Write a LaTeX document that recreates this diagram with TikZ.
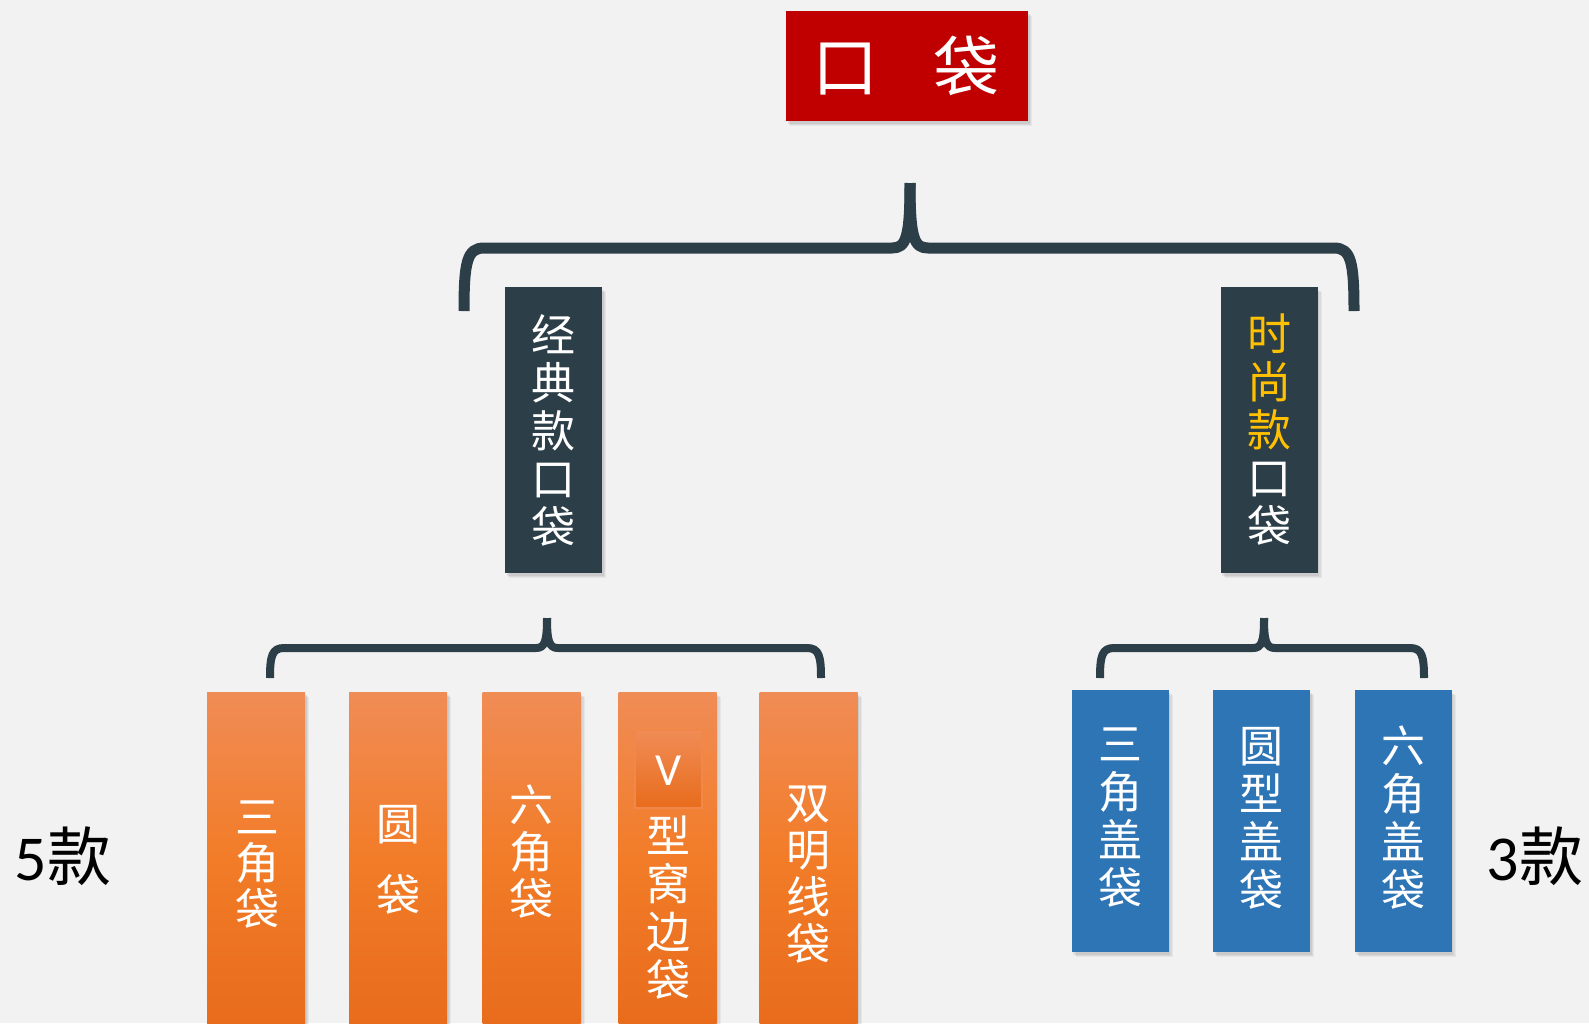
\documentclass[tikz,border=0pt]{standalone}
\usepackage{fontspec}
\setmainfont{Carlito}
\newfontfamily\cjk{Noto Sans CJK SC}
\usetikzlibrary{shadows}
\definecolor{bg}{HTML}{F2F2F2}
\definecolor{redbox}{HTML}{C00000}
\definecolor{slate}{HTML}{2C3E48}
\definecolor{gold}{HTML}{FFC000}
\definecolor{blueb}{HTML}{2E75B6}
\definecolor{orTop}{RGB}{240,140,86}
\definecolor{orMid}{RGB}{242,124,40}
\definecolor{orBot}{RGB}{232,108,28}
\begin{document}
\begin{tikzpicture}[x=1pt,y=-1pt,
  boxbase/.style={rectangle, inner sep=0pt, draw=none,
    drop shadow={shadow xshift=4pt, shadow yshift=-5pt, opacity=0.10},
    drop shadow={shadow xshift=3pt, shadow yshift=-4pt, opacity=0.12},
    drop shadow={shadow xshift=1.5pt, shadow yshift=-2.5pt, opacity=0.15}},
  orbox/.style={boxbase, top color=orTop, bottom color=orBot, middle color=orMid,
    minimum width=98pt, minimum height=331pt},
  bluebox/.style={boxbase, fill=blueb, minimum width=97pt, minimum height=262pt},
  darkbox/.style={boxbase, fill=slate, minimum width=97pt, minimum height=286pt},
  vtext/.style={text=white, align=center, inner sep=0pt,
    font=\cjk\fontsize{44}{#1}\selectfont},
  vtext/.default=47,
  bracketline/.style={draw=slate, line width=#1, line cap=butt, line join=round},
  cnt/.style={text=black, inner sep=0pt, font=\fontsize{64}{70}\selectfont}
]
\useasboundingbox (0,0) rectangle (1589,1023);
\fill[bg] (0,0) rectangle (1589,1023);

% title
\node[boxbase, fill=redbox, minimum width=242pt, minimum height=110pt] (top) at (907,66) {};
\node[text=white, inner sep=0pt, font=\cjk\fontsize{66}{70}\selectfont] (toptxt) at (906,66) {口\hspace{56pt}袋};

% second level
\node[darkbox] (classic) at (553.5,430) {};
\node[vtext=48] (classictxt) at (553,430) {经\\典\\款\\口\\袋};
\node[darkbox] (fashion) at (1269,430) {};
\node[vtext=48, text=gold] (fashiontxt) at (1269,430) {时\\尚\\款\\\textcolor{white}{口}\\\textcolor{white}{袋}};

% top bracket
\coordinate (tbL) at (464,311);
\coordinate (tbR) at (1354,311);
\coordinate (tbS) at (910,183);
\draw[bracketline=11] (tbL) .. controls (464,262) and (467,248) .. (484,248) -- (892,248)
   .. controls (906,248) and (910,238) .. (tbS);
\draw[bracketline=11] (tbR) .. controls (1354,262) and (1351,248) .. (1334,248) -- (928,248)
   .. controls (914,248) and (910,238) .. (tbS);

% lower-left bracket
\coordinate (lbL) at (270,678);
\coordinate (lbR) at (821,678);
\coordinate (lbS) at (547,618);
\draw[bracketline=8] (lbL) .. controls (270,656) and (272,648) .. (284,648) -- (536,648)
   .. controls (545,648) and (547,641) .. (lbS);
\draw[bracketline=8] (lbR) .. controls (821,656) and (819,648) .. (807,648) -- (558,648)
   .. controls (549,648) and (547,641) .. (lbS);

% lower-right bracket
\coordinate (rbL) at (1100,678);
\coordinate (rbR) at (1424,678);
\coordinate (rbS) at (1264,618);
\draw[bracketline=8] (rbL) .. controls (1100,656) and (1102,648) .. (1114,648) -- (1253,648)
   .. controls (1262,648) and (1264,641) .. (rbS);
\draw[bracketline=8] (rbR) .. controls (1424,656) and (1422,648) .. (1410,648) -- (1275,648)
   .. controls (1266,648) and (1264,641) .. (rbS);

% orange boxes
\node[orbox] (o1) at (256,857.5) {};
\node[vtext=46] (o1t) at (257,865) {三\\角\\袋};
\node[orbox] (o2) at (398,857.5) {};
\node[vtext=71] (o2t) at (398,860) {圆\\袋};
\node[orbox] (o3) at (531.5,857.5) {};
\node[vtext=47] (o3t) at (531,852) {六\\角\\袋};
\node[orbox] (o4) at (667.5,857.5) {};
\node[rectangle, inner sep=0pt, minimum width=67pt, minimum height=78pt,
      top color=orTop, bottom color=orBot, draw=orTop!70!orMid, line width=1.2pt] (vbox) at (668.5,769) {};
\node[text=white, inner sep=0pt, font=\fontsize{46}{50}\selectfont] (vtxt) at (668.5,771) {V};
\node[vtext=48] (o4t) at (668,908) {型\\窝\\边\\袋};
\node[orbox] (o5) at (808.5,857.5) {};
\node[vtext=47] (o5t) at (808,875) {双\\明\\线\\袋};

% blue boxes
\node[bluebox] (b1) at (1120,821) {};
\node[vtext=48] (b1t) at (1120,818) {三\\角\\盖\\袋};
\node[bluebox] (b2) at (1261.5,821) {};
\node[vtext=48] (b2t) at (1261,818) {圆\\型\\盖\\袋};
\node[bluebox] (b3) at (1403,821) {};
\node[vtext=48] (b3t) at (1403,818) {六\\角\\盖\\袋};

% counts
\node[cnt] (c5) at (63,856) {5{\cjk 款}};
\node[cnt] (c3) at (1535,856) {3{\cjk 款}};
\end{tikzpicture}
\end{document}
